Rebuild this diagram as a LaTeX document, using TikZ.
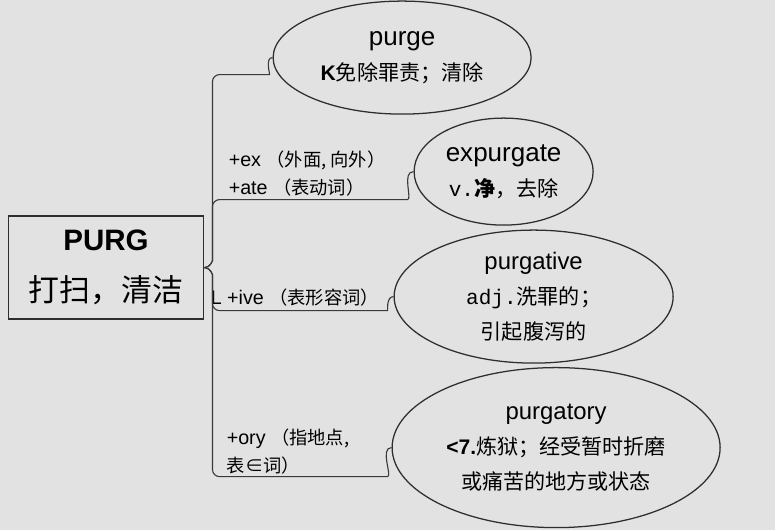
\documentclass[tikz,border=0pt]{standalone}
\usepackage{fontspec}
\setmainfont{Liberation Sans}
\setmonofont{Liberation Mono}
\newfontfamily\cjk{Noto Sans CJK SC}
\usepackage{xcolor}
\usepackage{tikz}
\usetikzlibrary{positioning,calc,shapes.geometric}
\definecolor{PaperGray}{HTML}{E2E2E2}
\definecolor{InkGray}{HTML}{2E2E2E}
\definecolor{LineGray}{HTML}{3A3A3A}

\begin{document}
\begin{tikzpicture}[
    font=\fontsize{15}{25}\selectfont,
    rootbox/.style={rectangle, draw=InkGray, line width=1.4pt, fill=PaperGray, align=center, minimum width=4.875cm, minimum height=2.575cm, inner sep=1pt},
    word/.style={ellipse, draw=InkGray, line width=0.9pt, fill=PaperGray, align=center, inner sep=1pt},
    affix/.style={align=left, inner sep=0pt, font=\fontsize{14}{20}\selectfont},
    link/.style={draw=LineGray, line width=0.8pt, rounded corners=5pt}
]
\useasboundingbox (0,0) rectangle (19.375,-13.25);
\fill[PaperGray] (0,0) rectangle (19.375,-13.25);

\node[rootbox, font=\fontsize{21}{36}\selectfont] (root) at (2.65,-6.69) {\textbf{PURG}\\{\cjk\fontsize{22}{36}\selectfont 打扫，清洁}};

\node[word, right=1.7cm of root.east, yshift=5.25cm, minimum width=6.45cm, minimum height=2.825cm] (purge)
    {{\fontsize{18.5}{25}\selectfont purge}\\\textbf{K}{\cjk 免除罪责；清除}};
\node[word, right=5.225cm of root.east, yshift=2.4cm, minimum width=4.475cm, minimum height=2.675cm] (expurgate)
    {{\fontsize{18.5}{25}\selectfont expurgate}\\{\ttfamily v.}{\cjk\bfseries 净}{\cjk ，去除}};
\node[word, right=4.725cm of root.east, yshift=-0.725cm, minimum width=6.975cm, minimum height=3.325cm] (purgative)
    {{\fontsize{17}{25}\selectfont purgative}\\{\ttfamily adj.}{\cjk 洗罪的；}\\{\cjk 引起腹泻的}};
\node[word, right=4.675cm of root.east, yshift=-4.5cm, minimum width=8.2cm, minimum height=4cm] (purgatory)
    {{\fontsize{17}{25}\selectfont purgatory}\\\textbf{<7.}{\cjk 炼狱；经受暂时折磨}\\{\cjk 或痛苦的地方或状态}};

\node[affix, right=0.6cm of root.east, yshift=2.35cm] (exlabel)
    {+ex {\cjk\fontsize{13}{20}\selectfont （外面, 向外）}\\+ate {\cjk\fontsize{13}{20}\selectfont （表动词）}};
\node[affix, right=0.15cm of root.east, yshift=-0.75cm] (ivelabel)
    {L +ive {\cjk\fontsize{13}{20}\selectfont （表形容词）}};
\node[affix, right=0.55cm of root.east, yshift=-4.6cm] (orylabel)
    {+ory {\cjk\fontsize{13}{20}\selectfont （指地点,}\\{\cjk\fontsize{13}{20}\selectfont 表∈词）}};

\draw[link] (root.east) to[out=0,in=-90] ++(0.2,0.35) |- ($(purge.west)+(-0.25,-0.425)$) to[out=0,in=180] (purge.west);
\draw[link] (root.east) to[out=0,in=-90] ++(0.2,0.35) |- ($(expurgate.west)+(-0.325,-0.7)$) to[out=0,in=180] (expurgate.west);
\draw[link] (root.east) to[out=0,in=90] ++(0.2,-0.35) |- ($(purgative.west)+(-0.325,-0.35)$) to[out=0,in=180] (purgative.west);
\draw[link] (root.east) to[out=0,in=90] ++(0.2,-0.35) |- ($(purgatory.west)+(-0.275,-0.725)$) to[out=0,in=180] (purgatory.west);
\end{tikzpicture}
\end{document}
